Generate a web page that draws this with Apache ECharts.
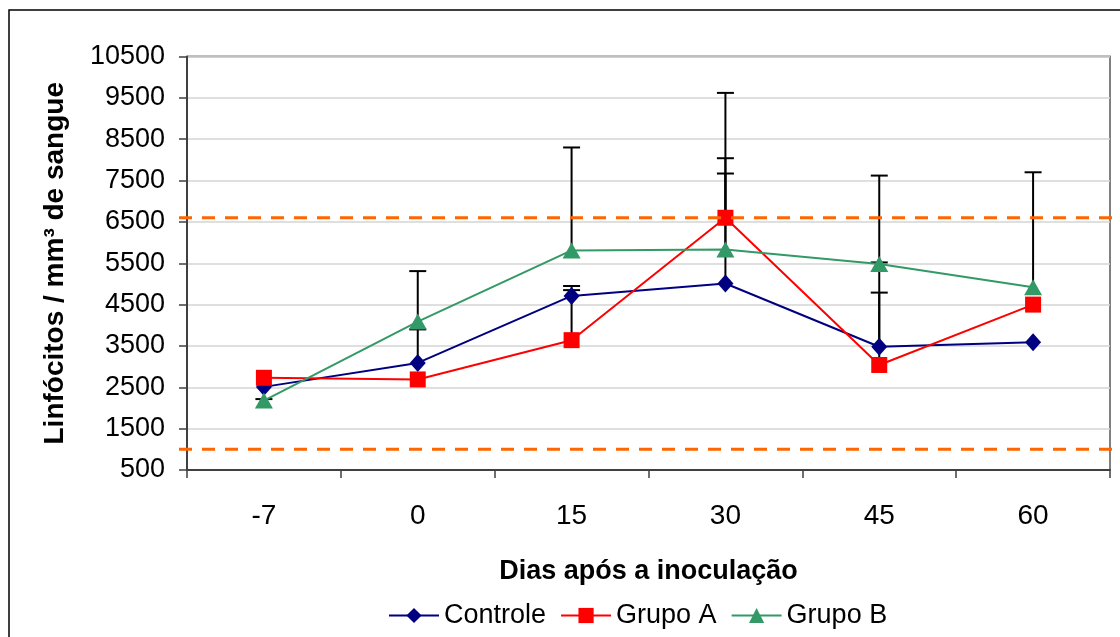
<!DOCTYPE html>
<html>
<head>
<meta charset="utf-8">
<script src="https://cdn.jsdelivr.net/npm/echarts@6/dist/echarts.min.js"></script>
<style>
  html, body { margin: 0; padding: 0; background: #fff; }
  #chart { width: 1120px; height: 637px; }
</style>
</head>
<body>
<div id="chart"></div>
<script>
// Days after inoculation
const days = ['-7', '0', '15', '30', '45', '60'];

// Mean lymphocyte counts (per mm³ of blood)
const controle = [2510, 3090, 4710, 5010, 3480, 3590];
const grupoA   = [2730, 2690, 3640, 6600, 3040, 4500];
const grupoB   = [2180, 4090, 5810, 5830, 5480, 4920];

// Upper end of each standard-deviation bar (null = no bar)
const controleUpper = [null, 3900, 4950, 7670, 4790, null];
const grupoAUpper   = [null, null, 4850, 9620, 5520, null];
const grupoBUpper   = [2215, 5310, 8300, 8040, 7620, 7700];

// Reference range limits
const refLimits = [1000, 6600];

// Y axis ticks
const yMin = 500, yMax = 10500, yStep = 1000;

const FONT = "'Liberation Sans', Arial, sans-serif";

function errorData(values, uppers) {
  const out = [];
  values.forEach((v, i) => {
    if (uppers[i] != null) out.push([i, v, uppers[i]]);
  });
  return out;
}

function renderErrorBar(params, api) {
  const x = api.value(0);
  const low = api.coord([x, api.value(1)]);
  const high = api.coord([x, api.value(2)]);
  const half = 8.5;
  const style = { stroke: '#000', lineWidth: 2 };
  return {
    type: 'group',
    children: [
      { type: 'line', shape: { x1: low[0], y1: low[1], x2: high[0], y2: high[1] }, style },
      { type: 'line', shape: { x1: high[0] - half, y1: high[1], x2: high[0] + half, y2: high[1] }, style }
    ]
  };
}

function renderRefLine(params, api) {
  const cs = params.coordSys;
  const y = api.coord([0, api.value(0)])[1];
  return {
    type: 'line',
    shape: { x1: cs.x - 8, y1: y, x2: cs.x + cs.width + 6, y2: y },
    style: { stroke: '#FF6600', lineWidth: 3, lineDash: [13, 10] }
  };
}

const chart = echarts.init(document.getElementById('chart'));

chart.setOption({
  backgroundColor: '#fff',
  animation: false,
  textStyle: { fontFamily: FONT },
  graphic: [{
    type: 'rect',
    shape: { x: 9, y: 10, width: 1300, height: 700 },
    style: { fill: 'none', stroke: '#000', lineWidth: 1.5 },
    z: -1
  }, {
    // top and right frame of the plot area
    type: 'polyline',
    shape: { points: [[187, 56.5], [1110, 56.5], [1110, 470]] },
    style: { fill: 'none', stroke: '#808080', lineWidth: 2 },
    z: 0
  }],
  grid: { left: 187, right: 10, top: 56.5, bottom: 167, containLabel: false },
  legend: {
    left: 383,
    top: 597,
    itemWidth: 50,
    itemHeight: 19,
    itemGap: 14,
    textStyle: { fontFamily: FONT, fontSize: 27, color: '#000' },
    data: ['Controle', 'Grupo A', 'Grupo B']
  },
  xAxis: {
    type: 'category',
    data: days,
    boundaryGap: true,
    name: 'Dias após a inoculação',
    nameLocation: 'middle',
    nameGap: 88,
    nameTextStyle: { fontFamily: FONT, fontSize: 27, fontWeight: 'bold', color: '#000' },
    axisLine: { lineStyle: { color: '#404040', width: 2 } },
    axisTick: { show: true, inside: false, length: 8, alignWithLabel: false, lineStyle: { color: '#404040', width: 1.5 } },
    axisLabel: { fontFamily: FONT, fontSize: 28, color: '#000', margin: 32 },
    splitLine: { show: false }
  },
  yAxis: {
    type: 'value',
    min: yMin,
    max: yMax,
    interval: yStep,
    name: 'Linfócitos / mm³ de sangue',
    nameLocation: 'middle',
    nameGap: 118,
    nameRotate: 90,
    nameTextStyle: { fontFamily: FONT, fontSize: 28, fontWeight: 'bold', color: '#000' },
    axisLine: { show: true, lineStyle: { color: '#404040', width: 2 } },
    axisTick: { show: true, inside: false, length: 8, lineStyle: { color: '#404040', width: 1.5 } },
    axisLabel: { fontFamily: FONT, fontSize: 27, color: '#000', margin: 22, formatter: v => String(v) },
    splitLine: { show: true, lineStyle: { color: '#D4D4D4', width: 1.5 } }
  },
  series: [
    {
      type: 'custom',
      name: 'ref',
      renderItem: renderRefLine,
      data: refLimits.map(v => [v]),
      encode: { y: 0 },
      z: 5,
      silent: true
    },
    {
      type: 'custom', name: 'errCtrl', renderItem: renderErrorBar,
      data: errorData(controle, controleUpper), encode: { x: 0, y: [1, 2] }, z: 3, silent: true
    },
    {
      type: 'custom', name: 'errA', renderItem: renderErrorBar,
      data: errorData(grupoA, grupoAUpper), encode: { x: 0, y: [1, 2] }, z: 3, silent: true
    },
    {
      type: 'custom', name: 'errB', renderItem: renderErrorBar,
      data: errorData(grupoB, grupoBUpper), encode: { x: 0, y: [1, 2] }, z: 3, silent: true
    },
    {
      type: 'line', name: 'Controle', data: controle,
      symbol: 'diamond', symbolSize: [16, 18],
      lineStyle: { color: '#000080', width: 2 },
      itemStyle: { color: '#000080' },
      z: 4
    },
    {
      type: 'line', name: 'Grupo A', data: grupoA,
      symbol: 'rect', symbolSize: 16,
      lineStyle: { color: '#FF0000', width: 2 },
      itemStyle: { color: '#FF0000' },
      z: 4
    },
    {
      type: 'line', name: 'Grupo B', data: grupoB,
      symbol: 'triangle', symbolSize: [18, 16],
      lineStyle: { color: '#339966', width: 2 },
      itemStyle: { color: '#339966' },
      z: 4
    }
  ]
});
</script>
</body>
</html>
